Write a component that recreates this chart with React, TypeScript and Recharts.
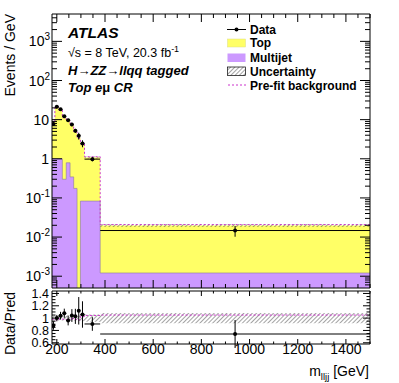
import React from 'react';
import { ComposedChart, Area, Line, Scatter, XAxis, YAxis, ErrorBar } from 'recharts';

// ---- data ----
const binEdges = [180, 192, 208, 223, 239, 255, 270, 284, 298, 315, 380, 1500];
const dataValues = [7.7, 21.3, 18.3, 12.3, 9.7, 7.55, 5.2, 3.86, 2.47, 0.98, 0.0147];
const dataErrors = [0.6, 1.1, 1.1, 0.85, 0.8, 0.75, 0.62, 0.77, 0.5, 0.12, 0.0045];
const topValues = [7.75, 20.3, 16.6, 11.1, 9.3, 6.9, 4.88, 3.45, 2.25, 1.0, 0.0186];
const multijetValues = [1.0, 1.0, 1.0, 0.3, 0.79, 0.345, 0.175, 0, 0.083, 0.083, 0.00121];
const uncertaintyRel = [0.04, 0.04, 0.04, 0.04, 0.04, 0.04, 0.045, 0.045, 0.05, 0.06, 0.085];
const prefitValues = [8.6, 20.7, 17.4, 11.2, 9.8, 7.2, 4.95, 3.35, 2.4, 1.13, 0.0208];

const xMajorTicks = [200, 400, 600, 800, 1000, 1200, 1400];
const yMajorTicks = [0.001, 0.01, 0.1, 1, 10, 100, 1000];
const ratioMajorTicks = [0.6, 0.8, 1, 1.2, 1.4];

const X_MIN = 180, X_MAX = 1500;
const Y_MIN = 5e-4, Y_MAX = 5e3;
const R_MIN = 0.58, R_MAX = 1.44;

// ---- derived tables ----
const nb = dataValues.length;
const totals = topValues.map((t, i) => t + multijetValues[i]);
const histRows = binEdges.map((e, k) => {
  const i = Math.min(k, nb - 1);
  const tot = totals[i];
  return {
    x: e,
    total: tot,
    mj: multijetValues[i] > 0 ? multijetValues[i] : Y_MIN * 0.1,
    band: [tot * (1 - uncertaintyRel[i]), tot * (1 + uncertaintyRel[i])],
    prefit: prefitValues[i],
    rBand: [1 - uncertaintyRel[i], 1 + uncertaintyRel[i]],
    rPrefit: prefitValues[i] / tot,
  };
});
const points = dataValues.map((v, i) => ({
  x: (binEdges[i] + binEdges[i + 1]) / 2,
  y: v,
  err: dataErrors[i],
  xerr: (binEdges[i + 1] - binEdges[i]) / 2,
  r: v / totals[i],
  rerr: dataErrors[i] / totals[i],
}));

const xMinorTicks: number[] = [];
for (let v = 200; v <= X_MAX; v += 50) if (!xMajorTicks.includes(v)) xMinorTicks.push(v);
const xTicks = [...xMajorTicks, ...xMinorTicks].sort((a, b) => a - b);

const yMinorTicks: number[] = [];
for (const m of [1e-4, ...yMajorTicks]) {
  for (let k = 2; k <= 9; k++) {
    const v = m * k;
    if (v > Y_MIN && v < Y_MAX) yMinorTicks.push(v);
  }
}
const yTicks = [...yMajorTicks, ...yMinorTicks].sort((a, b) => a - b);

const rMinorTicks: number[] = [];
for (let k = 0; k <= 20; k++) {
  const v = parseFloat((0.6 + k * 0.05).toFixed(2));
  if (v <= 1.4 && !ratioMajorTicks.some((m) => Math.abs(m - v) < 1e-6)) rMinorTicks.push(v);
}
const rTicks = [...ratioMajorTicks, ...rMinorTicks].sort((a, b) => a - b);

const FONT = '"Liberation Sans", Arial, Helvetica, sans-serif';
const YELLOW = '#ffff66';
const PURPLE = '#cc99ff';
const MAGENTA = '#cc33cc';

const isMajorOf = (majors: number[], v: number) =>
  majors.some((m) => Math.abs(m - v) <= 1e-6 * Math.max(1e-9, Math.abs(m)));

function makeTick(
  side: 'left' | 'right' | 'top' | 'bottom',
  majors: number[],
  majorLen: number,
  minorLen: number,
  label?: (x: number, y: number, v: number) => React.ReactNode
) {
  return (props: any) => {
    const { x, y, payload } = props;
    const v = payload.value;
    const major = isMajorOf(majors, v);
    const len = major ? majorLen : minorLen;
    let x2 = x, y2 = y;
    if (side === 'left') x2 = x + len;
    if (side === 'right') x2 = x - len;
    if (side === 'top') y2 = y + len;
    if (side === 'bottom') y2 = y - len;
    return (
      <g>
        <line x1={x} y1={y} x2={x2} y2={y2} stroke="#000" strokeWidth={1} />
        {major && label ? label(x, y, v) : null}
      </g>
    );
  };
}

const logLabel = (x: number, y: number, v: number) => {
  const e = Math.round(Math.log10(v));
  if (e === 0 || e === 1) {
    return (
      <text x={x - 3} y={y + 5} textAnchor="end" fontSize={14} fontFamily={FONT} fill="#000">
        {e === 0 ? '1' : '10'}
      </text>
    );
  }
  return (
    <text x={x - 2} y={y + 5} textAnchor="end" fontSize={14} fontFamily={FONT} fill="#000">
      10
      <tspan dy={-6} fontSize={10}>
        {String(e)}
      </tspan>
    </text>
  );
};

const ratioLabel = (x: number, y: number, v: number) => (
  <text x={x - 3} y={y + 4.5} textAnchor="end" fontSize={12.5} fontFamily={FONT} fill="#000">
    {String(parseFloat(v.toFixed(2)))}
  </text>
);

const xLabel = (x: number, y: number, v: number) => (
  <text x={x} y={y + 10} textAnchor="middle" fontSize={14} fontFamily={FONT} fill="#000">
    {String(v)}
  </text>
);

const Dot = (p: any) =>
  p.cx == null || p.cy == null ? null : <circle cx={p.cx} cy={p.cy} r={2} fill="#000" />;

function MainChart() {
  return (
    <ComposedChart
      width={399}
      height={290}
      data={histRows}
      margin={{ top: 13, right: 28, bottom: 1, left: 0 }}
    >
      <XAxis
        xAxisId="b"
        dataKey="x"
        type="number"
        domain={[X_MIN, X_MAX]}
        allowDataOverflow
        ticks={xTicks}
        interval={0}
        height={1}
        tickSize={0}
        tickMargin={0}
        tickLine={false}
        axisLine={{ stroke: '#000' }}
        tick={makeTick('bottom', xMajorTicks, 8, 4)}
      />
      <XAxis
        xAxisId="t"
        orientation="top"
        dataKey="x"
        type="number"
        domain={[X_MIN, X_MAX]}
        allowDataOverflow
        ticks={xTicks}
        interval={0}
        height={1}
        tickSize={0}
        tickMargin={0}
        tickLine={false}
        axisLine={{ stroke: '#000' }}
        tick={makeTick('top', xMajorTicks, 8, 4)}
      />
      <YAxis
        yAxisId="l"
        type="number"
        scale="log"
        domain={[Y_MIN, Y_MAX]}
        allowDataOverflow
        ticks={yTicks}
        interval={0}
        width={52}
        tickSize={0}
        tickMargin={0}
        tickLine={false}
        axisLine={{ stroke: '#000' }}
        tick={makeTick('left', yMajorTicks, 10, 5, logLabel)}
      />
      <YAxis
        yAxisId="r"
        orientation="right"
        type="number"
        scale="log"
        domain={[Y_MIN, Y_MAX]}
        allowDataOverflow
        ticks={yTicks}
        interval={0}
        width={1}
        tickSize={0}
        tickMargin={0}
        tickLine={false}
        axisLine={{ stroke: '#000' }}
        tick={makeTick('right', yMajorTicks, 10, 5)}
      />
      <Area
        xAxisId="b"
        yAxisId="l"
        type="stepAfter"
        dataKey="total"
        baseValue={Y_MIN}
        fill={YELLOW}
        fillOpacity={1}
        stroke="none"
        isAnimationActive={false}
      />
      <Area
        xAxisId="b"
        yAxisId="l"
        type="stepAfter"
        dataKey="mj"
        baseValue={Y_MIN}
        fill={PURPLE}
        fillOpacity={1}
        stroke="#8a7a9a"
        strokeWidth={0.6}
        isAnimationActive={false}
      />
      <Area
        xAxisId="b"
        yAxisId="l"
        type="stepAfter"
        dataKey="band"
        fill="url(#hatch)"
        fillOpacity={1}
        stroke="none"
        isAnimationActive={false}
      />
      <Line
        xAxisId="b"
        yAxisId="l"
        type="stepAfter"
        dataKey="prefit"
        stroke={MAGENTA}
        strokeWidth={1}
        strokeDasharray="2 2"
        dot={false}
        isAnimationActive={false}
      />
      <Scatter
        xAxisId="b"
        yAxisId="l"
        data={points}
        dataKey="y"
        shape={Dot}
        isAnimationActive={false}
      >
        <ErrorBar dataKey="err" direction="y" width={0} stroke="#000" strokeWidth={1} isAnimationActive={false} />
        <ErrorBar dataKey="xerr" direction="x" width={0} stroke="#000" strokeWidth={1} isAnimationActive={false} />
      </Scatter>
    </ComposedChart>
  );
}

function RatioChart() {
  return (
    <ComposedChart
      width={399}
      height={94}
      data={histRows}
      margin={{ top: 1, right: 28, bottom: 0, left: 0 }}
    >
      <XAxis
        xAxisId="b"
        dataKey="x"
        type="number"
        domain={[X_MIN, X_MAX]}
        allowDataOverflow
        ticks={xTicks}
        interval={0}
        height={39}
        tickSize={0}
        tickMargin={0}
        tickLine={false}
        axisLine={{ stroke: '#000' }}
        tick={makeTick('bottom', xMajorTicks, 5, 2.5, xLabel)}
      />
      <XAxis
        xAxisId="t"
        orientation="top"
        dataKey="x"
        type="number"
        domain={[X_MIN, X_MAX]}
        allowDataOverflow
        ticks={xTicks}
        interval={0}
        height={1}
        tickSize={0}
        tickMargin={0}
        tickLine={false}
        axisLine={{ stroke: '#000' }}
        tick={makeTick('top', xMajorTicks, 5, 2.5)}
      />
      <YAxis
        yAxisId="l"
        type="number"
        domain={[R_MIN, R_MAX]}
        allowDataOverflow
        ticks={rTicks}
        interval={0}
        width={52}
        tickSize={0}
        tickMargin={0}
        tickLine={false}
        axisLine={{ stroke: '#000' }}
        tick={makeTick('left', ratioMajorTicks, 7, 3.5, ratioLabel)}
      />
      <YAxis
        yAxisId="r"
        orientation="right"
        type="number"
        domain={[R_MIN, R_MAX]}
        allowDataOverflow
        ticks={rTicks}
        interval={0}
        width={1}
        tickSize={0}
        tickMargin={0}
        tickLine={false}
        axisLine={{ stroke: '#000' }}
        tick={makeTick('right', ratioMajorTicks, 7, 3.5)}
      />
      <Area
        xAxisId="b"
        yAxisId="l"
        type="stepAfter"
        dataKey="rBand"
        fill="url(#hatch)"
        fillOpacity={1}
        stroke="none"
        isAnimationActive={false}
      />
      <Line
        xAxisId="b"
        yAxisId="l"
        type="stepAfter"
        dataKey="rPrefit"
        stroke={MAGENTA}
        strokeWidth={1}
        strokeDasharray="2 2"
        dot={false}
        isAnimationActive={false}
      />
      <Scatter
        xAxisId="b"
        yAxisId="l"
        data={points}
        dataKey="r"
        shape={Dot}
        isAnimationActive={false}
      >
        <ErrorBar dataKey="rerr" direction="y" width={0} stroke="#000" strokeWidth={1} isAnimationActive={false} />
        <ErrorBar dataKey="xerr" direction="x" width={0} stroke="#000" strokeWidth={1} isAnimationActive={false} />
      </Scatter>
    </ComposedChart>
  );
}

function Overlay() {
  const lx = 250;
  return (
    <svg
      width={399}
      height={383}
      style={{ position: 'absolute', left: 0, top: 0, pointerEvents: 'none' }}
      fontFamily={FONT}
    >
      <defs>
        <pattern id="hatch" patternUnits="userSpaceOnUse" width={3} height={3} patternTransform="rotate(45)">
          <line x1={0} y1={0} x2={0} y2={3} stroke="#333" strokeWidth={0.9} />
        </pattern>
      </defs>
      {/* ATLAS labels */}
      <text x={68} y={38} fontSize={15.5} fontWeight="bold" fontStyle="italic" fill="#000">
        ATLAS
      </text>
      <text x={68} y={57} fontSize={12.5} fill="#000">
        √s = 8 TeV, 20.3 fb
        <tspan dy={-5} fontSize={9}>
          -1
        </tspan>
      </text>
      <text x={68} y={75} fontSize={13} fontWeight="bold" fontStyle="italic" fill="#000">
        H→ZZ→llqq tagged
      </text>
      <text x={68} y={92} fontSize={13} fontWeight="bold" fontStyle="italic" fill="#000">
        Top e<tspan fontStyle="normal">μ</tspan> CR
      </text>

      {/* legend */}
      <line x1={227} y1={29.5} x2={246} y2={29.5} stroke="#000" strokeWidth={1} />
      <circle cx={236.5} cy={29.5} r={2} fill="#000" />
      <text x={lx} y={33.5} fontSize={12} fontWeight="bold" fill="#000">Data</text>

      <rect x={227.5} y={39} width={18} height={8} fill={YELLOW} stroke="#dddd88" strokeWidth={0.5} />
      <text x={lx} y={47} fontSize={12} fontWeight="bold" fill="#000">Top</text>

      <rect x={227.5} y={53.5} width={18} height={8.5} fill={PURPLE} stroke="none" />
      <text x={lx} y={61.5} fontSize={12} fontWeight="bold" fill="#000">Multijet</text>

      <rect x={227.5} y={67} width={18} height={8.5} fill="url(#hatch)" stroke="#000" strokeWidth={0.7} />
      <text x={lx} y={75.5} fontSize={12} fontWeight="bold" fill="#000">Uncertainty</text>

      <line x1={228} y1={85} x2={246} y2={85} stroke={MAGENTA} strokeWidth={1} strokeDasharray="2 2" />
      <text x={lx} y={89.5} fontSize={12} fontWeight="bold" fill="#000">Pre-fit background</text>

      {/* axis titles */}
      <text transform="translate(15,14) rotate(-90)" textAnchor="end" fontSize={14} fill="#000">
        Events / GeV
      </text>
      <text transform="translate(15,292) rotate(-90)" textAnchor="end" fontSize={14} fill="#000">
        Data/Pred
      </text>
      <text x={369} y={376} textAnchor="end" fontSize={14} fill="#000">
        m
        <tspan dy={4} fontSize={9.5}>
          lljj
        </tspan>
        <tspan dy={-4} fontSize={14}>
          {' '}[GeV]
        </tspan>
      </text>
    </svg>
  );
}

export default function App() {
  return (
    <div
      style={{
        position: 'absolute',
        left: 0,
        top: 0,
        width: 399,
        height: 383,
        background: '#fff',
        fontFamily: FONT,
      }}
    >
      <div style={{ position: 'absolute', left: 0, top: 0 }}>
        <MainChart />
      </div>
      <div style={{ position: 'absolute', left: 0, top: 289 }}>
        <RatioChart />
      </div>
      <Overlay />
    </div>
  );
}
